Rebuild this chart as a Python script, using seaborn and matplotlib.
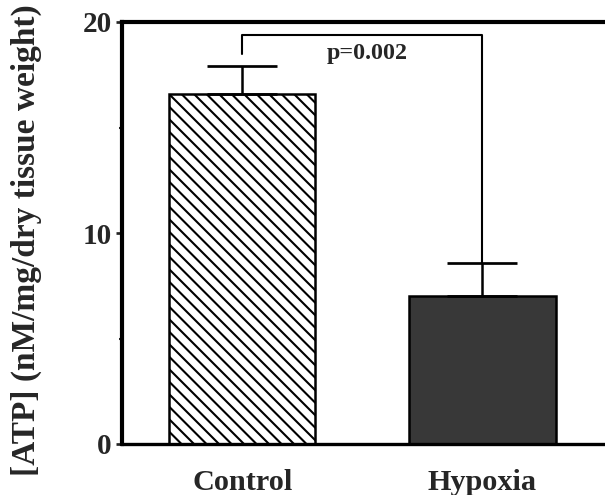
import numpy as np
import pandas as pd
import matplotlib
matplotlib.use("Agg")
import matplotlib.pyplot as plt
import seaborn as sns

# ── Data ──────────────────────────────────────────────────────────────────────
groups   = ["Control", "Hypoxia"]
atp_mean = [16.6, 7.0]
atp_sd   = [1.3, 1.6]
p_text   = "p=0.002"
bracket_y = 19.4
y_ticks  = [0, 10, 20]

DPI = 150
sns.set_theme(style="white")
plt.rcParams["font.family"] = ["Liberation Serif", "DejaVu Serif"]
plt.rcParams["font.weight"] = "bold"
plt.rcParams["hatch.linewidth"] = 1.0

df = pd.DataFrame({"group": groups, "atp": atp_mean})

fig = plt.figure(figsize=(605 / DPI, 495 / DPI), dpi=DPI)
ax = fig.add_axes([122 / 605, 1 - 444 / 495, 1 - 122 / 605, (444 - 22) / 495])

sns.barplot(data=df, x="group", y="atp", ax=ax, width=0.61,
            palette=["white", "#383838"], hue="group", legend=False,
            edgecolor="black", linewidth=1.2, errorbar=None)
ax.patches[0].set_hatch("\\\\\\\\")

# one-sided (upward) error bars
x = np.arange(len(groups))
ax.errorbar(x, atp_mean, yerr=[np.zeros(len(groups)), atp_sd], fmt="none",
            ecolor="black", elinewidth=1.2, capsize=17, capthick=1.3, zorder=3)

# significance bracket
tops = np.array(atp_mean) + np.array(atp_sd)
ax.plot([x[0], x[0], x[1], x[1]], [tops[0] + 0.6, bracket_y, bracket_y, tops[1]],
        color="black", lw=1.0)
ax.text(0.5 + 0.02, bracket_y - 0.4, p_text, ha="center", va="top",
        fontsize=11.5, fontweight="bold")

ax.set_xlim(-0.5, 1.51)
ax.set_ylim(0, 20)
ax.set_yticks(y_ticks)
ax.set_yticks([5, 15], minor=True)
ax.set_xlabel("")
ax.set_ylabel("[ATP] (nM/mg/dry tissue weight)", fontsize=16, fontweight="bold")
ax.yaxis.set_label_coords(-0.166, 0.483)
ax.tick_params(axis="y", which="major", left=True, length=3, width=1.3,
               labelsize=14, pad=2)
ax.tick_params(axis="y", which="minor", left=True, length=1.5, width=1.0)
ax.tick_params(axis="x", bottom=False, labelsize=14.5, pad=6)
for lab in ax.get_xticklabels() + ax.get_yticklabels():
    lab.set_fontweight("bold")

for side in ["left", "top", "bottom"]:
    ax.spines[side].set_color("black")
ax.spines["left"].set_linewidth(2.0)
ax.spines["top"].set_linewidth(2.0)
ax.spines["bottom"].set_linewidth(1.6)
ax.spines["right"].set_visible(False)

fig.savefig("out.png", dpi=DPI)
